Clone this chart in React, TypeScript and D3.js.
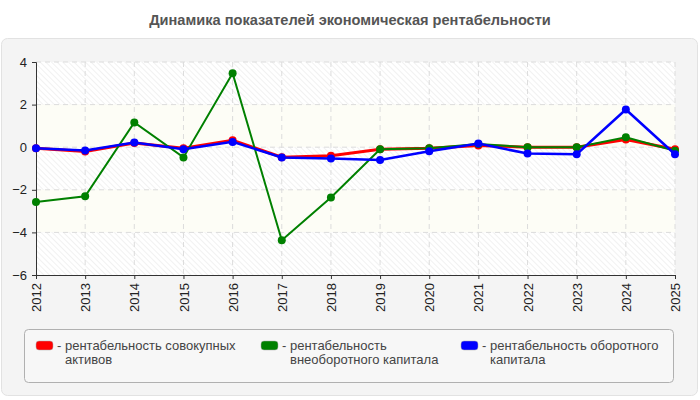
import React, { useEffect, useRef } from 'react';
import * as d3 from 'd3';

const years = ['2012', '2013', '2014', '2015', '2016', '2017', '2018', '2019', '2020', '2021', '2022', '2023', '2024', '2025'];
const totalAssets = [-0.05, -0.2, 0.2, -0.05, 0.33, -0.47, -0.4, -0.1, -0.05, 0.08, 0, 0, 0.36, -0.1];
const fixedCapital = [-2.57, -2.3, 1.16, -0.48, 3.47, -4.37, -2.36, -0.1, -0.05, 0.15, 0, 0, 0.47, -0.17];
const workingCapital = [-0.05, -0.15, 0.22, -0.1, 0.25, -0.48, -0.53, -0.6, -0.19, 0.17, -0.3, -0.33, 1.77, -0.33];
const yTicks = [4, 2, 0, -2, -4, -6];

const series = [
  { name: ['- рентабельность совокупных', 'активов'], color: '#ff0000', width: 3, values: totalAssets },
  { name: ['- рентабельность', 'внеоборотного капитала'], color: '#008000', width: 2, values: fixedCapital },
  { name: ['- рентабельность оборотного', 'капитала'], color: '#0000ff', width: 2.5, values: workingCapital },
];

const App: React.FC = () => {
  const svgRef = useRef<SVGSVGElement>(null);

  useEffect(() => {
    if (!svgRef.current) return;
    const svg = d3.select(svgRef.current);
    svg.selectAll('*').remove();

    const width = 700;
    const height = 400;
    const font = 'Liberation Sans, Arial, sans-serif';

    // background and frame
    svg.append('rect').attr('width', width).attr('height', height).attr('fill', '#ffffff');
    svg.append('rect')
      .attr('x', 1.5).attr('y', 38.5).attr('width', 696).attr('height', 357).attr('rx', 6)
      .attr('fill', '#f4f4f4').attr('stroke', '#e2e2e2');

    svg.append('text')
      .attr('x', width / 2).attr('y', 25)
      .attr('text-anchor', 'middle')
      .attr('font-family', font).attr('font-size', 14.6).attr('font-weight', 'bold')
      .attr('fill', '#555')
      .text('Динамика показателей экономическая рентабельности');

    const defs = svg.append('defs');
    const pat = defs.append('pattern')
      .attr('id', 'hatch').attr('width', 4).attr('height', 4)
      .attr('patternUnits', 'userSpaceOnUse').attr('patternTransform', 'rotate(-45)');
    pat.append('rect').attr('width', 4).attr('height', 4).attr('fill', '#ffffff');
    pat.append('line').attr('x1', 0).attr('y1', 0).attr('x2', 0).attr('y2', 4)
      .attr('stroke', '#ededed').attr('stroke-width', 1.5);

    const x = d3.scalePoint<string>().domain(years).range([36, 675]);
    const y = d3.scaleLinear().domain([-6, 4]).range([275, 62]);

    // alternating bands
    const bands = d3.pairs(yTicks);
    svg.append('g').selectAll('rect').data(bands).enter().append('rect')
      .attr('x', 36).attr('width', 675 - 36)
      .attr('y', d => y(d[0]))
      .attr('height', d => y(d[1]) - y(d[0]))
      .attr('fill', (d, i) => (i % 2 === 0 ? 'url(#hatch)' : '#fdfdf6'));

    // grid
    const grid = svg.append('g').attr('stroke', '#dcdcdc').attr('stroke-dasharray', '5,4');
    grid.selectAll('.h').data(yTicks.slice(0, -1)).enter().append('line')
      .attr('x1', 36).attr('x2', 675).attr('y1', d => y(d)).attr('y2', d => y(d));
    grid.selectAll('.v').data(years.slice(1)).enter().append('line')
      .attr('y1', 62).attr('y2', 275).attr('x1', d => x(d)!).attr('x2', d => x(d)!);

    // axes
    const yAxis = svg.append('g').attr('transform', 'translate(36,0)')
      .call(d3.axisLeft(y).tickValues(yTicks).tickSize(4).tickPadding(5).tickFormat(d3.format('d')));
    const xAxis = svg.append('g').attr('transform', 'translate(0,275)')
      .call(d3.axisBottom(x).tickSize(4).tickPadding(4));
    [yAxis, xAxis].forEach(a => {
      a.select('.domain').attr('stroke', '#333');
      a.selectAll('line').attr('stroke', '#333');
      a.selectAll('text').attr('font-family', font).attr('font-size', 13).attr('fill', '#222');
    });
    xAxis.selectAll('text')
      .attr('transform', 'rotate(-90)')
      .attr('text-anchor', 'end')
      .attr('x', -8).attr('y', 0).attr('dy', '0.35em');

    // lines
    const line = d3.line<number>().x((d, i) => x(years[i])!).y(d => y(d));
    series.forEach(s => {
      svg.append('path').datum(s.values)
        .attr('fill', 'none').attr('stroke', s.color).attr('stroke-width', s.width)
        .attr('d', line);
      svg.append('g').selectAll('circle').data(s.values).enter().append('circle')
        .attr('cx', (d, i) => x(years[i])!).attr('cy', d => y(d)).attr('r', 4)
        .attr('fill', s.color);
    });

    // legend
    svg.append('rect')
      .attr('x', 24.5).attr('y', 329.5).attr('width', 649).attr('height', 53).attr('rx', 4)
      .attr('fill', '#f7f7f7').attr('stroke', '#b0b0b0');
    const legendX = [36, 261, 461];
    const items = svg.append('g').selectAll('g').data(series).enter().append('g')
      .attr('transform', (d, i) => `translate(${legendX[i]},341)`);
    items.append('rect')
      .attr('width', 17).attr('height', 9).attr('rx', 3)
      .attr('fill', d => d.color).attr('stroke', '#aaa').attr('stroke-width', 0.5);
    items.append('text')
      .attr('font-family', font).attr('font-size', 13).attr('fill', '#444')
      .selectAll('tspan').data(d => d.name).enter().append('tspan')
      .attr('x', (d, i) => (i === 0 ? 21 : 29))
      .attr('y', (d, i) => 9 + i * 14)
      .text(d => d);
  }, []);

  return (
    <svg ref={svgRef} width={700} height={400} style={{ position: 'absolute', left: 0, top: 0 }} />
  );
};

export default App;
